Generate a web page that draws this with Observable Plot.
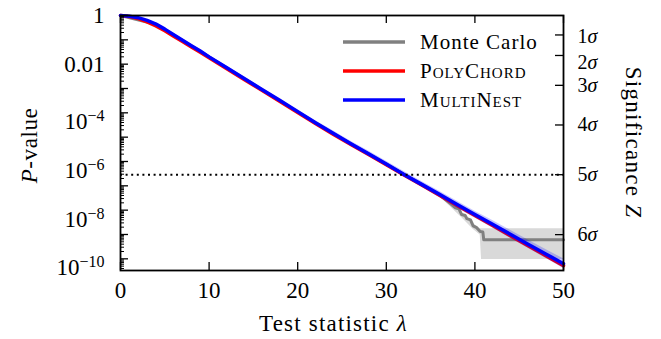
<!DOCTYPE html>
<html><head><meta charset="utf-8">
<script src="https://cdn.jsdelivr.net/npm/d3@7"></script>
<script src="https://cdn.jsdelivr.net/npm/@observablehq/plot@0.6"></script>
<style>
html,body{margin:0;padding:0;background:#fff;}
#chart{width:661px;height:339px;}
</style></head><body><div id="chart"></div>
<script>
// ---- data ----
const lambdaGrid = [0,1,2,3,4,5,6,7,8,9,10,12,14,16,18,20,22,24,26,28,30,32,34,36,38,40,42,44,46,48,50];
const multiNestLog10P = [0,-0.03,-0.09,-0.2,-0.35,-0.56,-0.79,-1.02,-1.24,-1.46,-1.70,-2.15,-2.60,-3.05,-3.49,-3.95,-4.41,-4.84,-5.27,-5.68,-6.10,-6.53,-6.94,-7.35,-7.77,-8.18,-8.58,-8.99,-9.40,-9.80,-10.20];
const multiNestErr = [0.01,0.02,0.03,0.04,0.05,0.05,0.06,0.06,0.06,0.07,0.07,0.07,0.08,0.08,0.08,0.09,0.09,0.10,0.10,0.11,0.11,0.12,0.12,0.13,0.14,0.14,0.15,0.16,0.17,0.18,0.20];
const polyChordLog10P = [0,-0.04,-0.13,-0.26,-0.43,-0.63,-0.85,-1.07,-1.29,-1.51,-1.74,-2.19,-2.64,-3.08,-3.53,-3.99,-4.44,-4.88,-5.30,-5.71,-6.13,-6.56,-6.97,-7.39,-7.81,-8.22,-8.63,-9.05,-9.46,-9.87,-10.28];
const mcLambda = [0,4,8,12,16,20,24,28,32,36,36.7,37.3,37.8,38.2,38.5,38.9,39.1,39.5,39.8,40.2,40.6,40.9,41.0,50];
const mcLog10P = [0,-0.36,-1.25,-2.16,-3.06,-3.96,-4.85,-5.69,-6.54,-7.37,-7.58,-7.75,-7.90,-7.95,-8.18,-8.22,-8.35,-8.40,-8.65,-8.72,-8.88,-8.90,-9.22,-9.22];
const mcBandLambda = [36.0,36.7,38.5,39.8,40.6,40.75,50];
const mcBandHiLog10P = [-7.32,-7.50,-8.10,-8.55,-8.76,-8.76,-8.76];
const mcBandLoLog10P = [-7.42,-7.68,-8.30,-8.78,-9.02,-10.03,-10.03];
const sigmaLevels = [1,2,3,4,5,6];
const sigmaP = [0.158655, 0.0227501, 0.0013499, 3.16712e-5, 2.86652e-7, 9.86588e-10];
const discoverySigma = 5;
const xTicks = [0,10,20,30,40,50];
const yLabelExps = [0,-2,-4,-6,-8,-10];
const yDecadeExps = [0,-1,-2,-3,-4,-5,-6,-7,-8,-9,-10,-11];
const seriesNames = ["Monte Carlo","PolyChord","MultiNest"];
const seriesColors = ["#808080","#ff0000","#0000ff"];

// ---- build tables ----
const mn = lambdaGrid.map((l,i)=>({l, p:10**multiNestLog10P[i], lo:10**(multiNestLog10P[i]-multiNestErr[i]), hi:10**(multiNestLog10P[i]+multiNestErr[i])}));
const pc = lambdaGrid.map((l,i)=>({l, p:10**polyChordLog10P[i]}));
const mc = mcLambda.map((l,i)=>({l, p:10**mcLog10P[i]}));
const mcBand = mcBandLambda.map((l,i)=>({l, lo:10**mcBandLoLog10P[i], hi:10**mcBandHiLog10P[i]}));
const yMajor = yDecadeExps.map(e=>10**e);
const yMinor = [];
yDecadeExps.forEach(e=>{ for (let k=2;k<=9;k++) yMinor.push(k*10**(e-1)); });

const W = 661, H = 339, mL = 120, mR = 98, mT = 15, mB = 69;
const pw = W - mL - mR, ph = H - mT - mB;
const yMinP = 10**-10.48;

const fmtY = d => { const e = Math.round(Math.log10(d)); return e===0 ? "1" : e===-2 ? "0.01" : "10^" + (e<0 ? "\u2212"+(-e) : e); };
const fmtSigma = d => sigmaLevels[sigmaP.indexOf(d)] + "σ";

const font = "'Liberation Serif', serif";
const svg = Plot.plot({
  width: W, height: H,
  marginLeft: mL, marginRight: mR, marginTop: mT, marginBottom: mB,
  style: {fontFamily: font, fontSize: "23px", background: "#fff", color: "#000"},
  x: {domain: [0, 50]},
  y: {type: "log", domain: [yMinP, 1]},
  marks: [
    Plot.areaY(mcBand, {x: "l", y1: "lo", y2: "hi", fill: "#d9d9d9", curve: "linear"}),
    Plot.line(mc, {x: "l", y: "p", stroke: seriesColors[0], strokeWidth: 3}),
    Plot.line(pc, {x: "l", y: "p", stroke: seriesColors[1], strokeWidth: 3.5}),
    Plot.areaY(mn, {x: "l", y1: "lo", y2: "hi", fill: seriesColors[2], fillOpacity: 0.22}),
    Plot.line(mn, {x: "l", y: "p", stroke: seriesColors[2], strokeWidth: 3.5}),
    Plot.ruleY([sigmaP[sigmaLevels.indexOf(discoverySigma)]], {stroke: "#000", strokeWidth: 2, strokeDasharray: "2,3.6"}),
    // inward ticks
    Plot.tickY(yMinor.filter(v=>v>=yMinP && v<=1), {y: d=>d, stroke:"#000", strokeWidth: 1, insetRight: pw - 4}),
    Plot.tickY(yMajor.filter(v=>v>=yMinP && v<=1), {y: d=>d, stroke:"#000", strokeWidth: 1.3, insetRight: pw - 8}),
    Plot.tickY(sigmaP, {y: d=>d, stroke:"#000", strokeWidth: 1.3, insetLeft: pw - 8}),
    Plot.tickX(xTicks, {x: d=>d, stroke:"#000", strokeWidth: 1.3, insetTop: ph - 8}),
    Plot.tickX(xTicks, {x: d=>d, stroke:"#000", strokeWidth: 1.3, insetBottom: ph - 8}),
    Plot.frame({stroke: "#000", strokeWidth: 1.8}),
    Plot.axisX(xTicks, {tickSize: 0, tickPadding: 11, label: null}),
    Plot.axisY(yLabelExps.map(e=>10**e), {anchor: "left", tickSize: 0, tickPadding: 16, tickFormat: fmtY, label: null}),
    Plot.axisY(sigmaP, {anchor: "right", tickSize: 0, tickPadding: 14, tickFormat: fmtSigma, label: null})
  ]
});
document.getElementById("chart").appendChild(svg);

// rich text for tick labels (superscripts / italic sigma)
d3.select(svg).selectAll("text").each(function(){
  const t = this.textContent;
  let m = t.match(/^10\^(.+)$/);
  if (m) {
    this.textContent = "10";
    d3.select(this).append("tspan").attr("dy","-0.5em").attr("font-size","16px").text(m[1]);
    d3.select(this).attr("dy", "0.4em");
    return;
  }
  m = t.match(/^(\d)σ$/);
  if (m) {
    this.textContent = m[1];
    d3.select(this).attr("font-size", "20px");
    d3.select(this).append("tspan").attr("font-style","italic").text("σ");
    if (m[1] === "1") d3.select(this).attr("dy", "0.1em");
    if (m[1] === "2") d3.select(this).attr("dy", "0.38em");
  }
});

const s = d3.select(svg);
// axis titles
const yl = s.append("text").attr("transform", `translate(29,${mT+ph/2+3}) rotate(-90)`)
  .attr("text-anchor","middle").attr("dominant-baseline","central")
  .attr("font-family",font).attr("font-size","23px").attr("letter-spacing","0.6px");
yl.append("tspan").attr("font-style","italic").text("P");
yl.append("tspan").text("-value");
const yr = s.append("text").attr("transform", `translate(634,${mT+ph/2}) rotate(90)`)
  .attr("text-anchor","middle").attr("dominant-baseline","central")
  .attr("font-family",font).attr("font-size","23px").attr("letter-spacing","1.3px");
yr.append("tspan").text("Significance ");
yr.append("tspan").attr("font-style","italic").text("Z");
const xl = s.append("text").attr("x", mL+pw/2-8).attr("y", 323)
  .attr("text-anchor","middle").attr("dominant-baseline","central")
  .attr("font-family",font).attr("font-size","23px").attr("letter-spacing","1.2px");
xl.append("tspan").text("Test statistic ");
xl.append("tspan").attr("font-style","italic").text("λ");

// legend
const legY = [42, 71, 100];
seriesNames.forEach((n,i)=>{
  s.append("line").attr("x1",343).attr("x2",405).attr("y1",legY[i]).attr("y2",legY[i])
    .attr("stroke",seriesColors[i]).attr("stroke-width",3.5);
  const tx = s.append("text").attr("x",420).attr("y",legY[i]).attr("dominant-baseline","central")
    .attr("text-anchor","start")
    .attr("font-family",font).attr("font-size","21px").attr("letter-spacing","1px").text(n);
  if (i>0) tx.attr("font-variant","small-caps");
});
</script></body></html>
